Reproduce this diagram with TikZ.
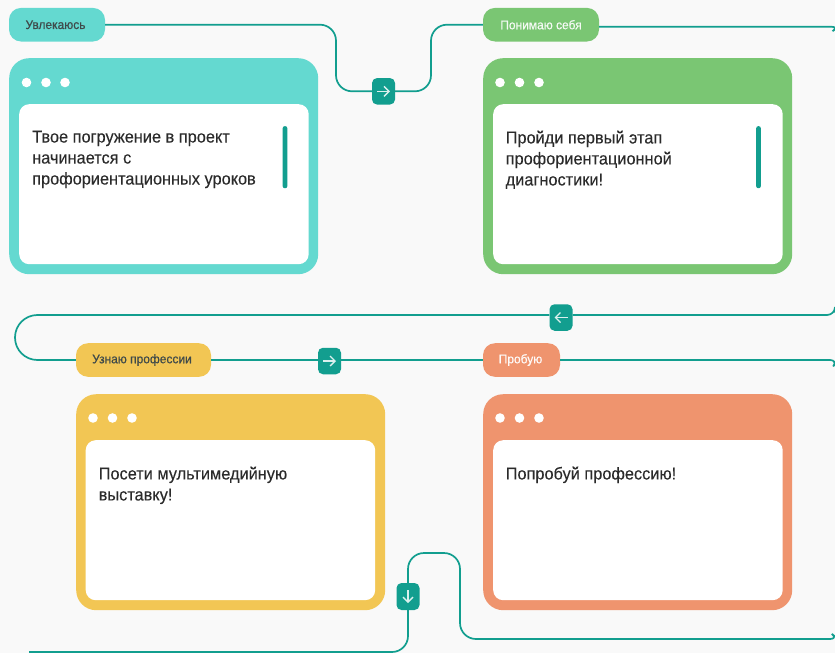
\documentclass[tikz,border=0pt]{standalone}
\usepackage{fontspec}
\setmainfont[FakeStretch=0.95]{Liberation Sans}
\usetikzlibrary{arrows.meta}
\definecolor{pagebg}{HTML}{F9F9F9}
\definecolor{flow}{HTML}{129E8F}
\definecolor{cteal}{HTML}{64D9D0}
\definecolor{cgreen}{HTML}{7AC673}
\definecolor{cyellow}{HTML}{F2C654}
\definecolor{corange}{HTML}{EF946E}
\definecolor{ink}{HTML}{2B2B2B}
\definecolor{pillink}{HTML}{3F4A4A}
\tikzset{
  x=1pt,y=-1pt,
  card/.style={rectangle,rounded corners=20pt,inner sep=0pt,minimum width=309pt,minimum height=216pt,anchor=north west},
  pane/.style={rectangle,rounded corners=10pt,inner sep=0pt,fill=white,minimum width=289.5pt,minimum height=160pt,anchor=north west},
  dot/.style={circle,fill=white,inner sep=0pt,minimum size=9.6pt},
  bar/.style={rectangle,rounded corners=2pt,fill=flow,inner sep=0pt,minimum width=4.6pt,minimum height=62pt,anchor=north west},
  pill/.style={rectangle,rounded corners=12pt,inner sep=0pt,minimum height=33.6pt,font=\fontsize{12.6}{14}\selectfont\addfontfeature{FakeBold=0.45}},
  btn/.style={rectangle,rounded corners=5pt,fill=flow,inner sep=0pt,minimum width=23pt,minimum height=26.5pt},
  body/.style={anchor=north west,inner sep=0pt,align=left,text=ink,font=\fontsize{17.2}{21}\selectfont\addfontfeature{FakeBold=0.15}},
  flowline/.style={draw=flow,line width=1.7pt,rounded corners=16pt},
  glyph/.style={draw=white!85!flow,line width=1.4pt,-{Straight Barb[length=5pt,width=10pt,line width=1.4pt]}}
}
\begin{document}
\begin{tikzpicture}
\useasboundingbox (0,0) rectangle (835,653);
\fill[pagebg] (0,0) rectangle (835,653);

% free ends and bends
\coordinate (e1) at (835,29.5);
\coordinate (e2) at (835,312.5);
\coordinate (e3) at (835,364);
\coordinate (e4) at (835,636.5);
\coordinate (e5) at (29,652);
\coordinate (k1) at (336,58);
\coordinate (k2) at (431,58);
\coordinate (k4) at (460,553);

% pills
\node[pill,fill=cteal,text=pillink,minimum width=96pt] (p1) at (57,24.7) {\kern-3pt Увлекаюсь};
\node[pill,fill=cgreen,text=white!92!cgreen,minimum width=116pt] (p2) at (541,24.7) {Понимаю себя};
\node[pill,fill=cyellow,text=pillink,minimum width=135pt] (p3) at (143.5,360) {\kern-3pt Узнаю профессии};
\node[pill,fill=corange,text=white!95!corange,minimum width=77pt] (p4) at (521.5,360) {\kern-2pt Пробую};

% buttons
\node[btn] (b1) at (383.5,91.3) {};
\node[btn] (b2) at (561,317.5) {};
\node[btn] (b3) at (329.5,361) {};
\node[btn,minimum height=27pt] (b4) at (408,596.5) {};
\draw[glyph] ([xshift=-6.5pt]b1.center) -- ([xshift=6.5pt]b1.center);
\draw[glyph] ([xshift=6.5pt]b2.center) -- ([xshift=-6.5pt]b2.center);
\draw[glyph] ([xshift=-6.5pt]b3.center) -- ([xshift=6.5pt]b3.center);
\draw[glyph] ([yshift=6.5pt]b4.center) -- ([yshift=-6.5pt]b4.center);

% connectors
\draw[flowline] (p1.east) -| (k1) |- (b1.west);
\draw[flowline] (b1.east) -| (k2) |- (p2.west);
\draw[flowline,rounded corners=8pt] ([yshift=-2pt]p2.east) -- ++(240,0) -- (e1);
\draw[flowline,rounded corners=8pt] (e2) -- (835,315) -- (b2.east |- 835,315);
\draw[flowline,sharp corners] (b2.west |- 835,315) -- (37.5,315) .. controls (25,315) and (15,325) .. (15,337.5) .. controls (15,350) and (25,360) .. (37.5,360) -- (p3.west);
\draw[flowline] (p3.east) -- (b3.west |- p3.east);
\draw[flowline] (b3.east |- p4.west) -- (p4.west);
\draw[flowline,rounded corners=8pt] (p4.east) -- (838,360) -- (e3);
\draw[flowline,rounded corners=8pt] (e4) -- (838,639) -- (700,639);
\draw[flowline] (700,639) -- (460,639) -- (k4) -- (b4.north |- k4) -- (b4.north);
\draw[flowline] (b4.south) |- (e5);

% cards
\node[card,fill=cteal] (c1) at (9,58) {};
\node[pane] (w1) at (19,104) {};
\node[dot] (d11) at (26.5,82.5) {};
\node[dot] (d12) at (46,82.5) {};
\node[dot] (d13) at (65,82.5) {};
\node[bar] (s1) at (282.5,126) {};
\node[body] (t1) at (32,130.5) {Твое погружение в проект\\начинается с\\профориентационных уроков};

\node[card,fill=cgreen] (c2) at (483,58) {};
\node[pane] (w2) at (493,104) {};
\node[dot] (d21) at (500,82.5) {};
\node[dot] (d22) at (519.5,82.5) {};
\node[dot] (d23) at (539,82.5) {};
\node[bar] (s2) at (756,126) {};
\node[body] (t2) at (505.5,130.5) {Пройди первый этап\\профориентационной\\диагностики!};

\node[card,fill=cyellow] (c3) at (76,394) {};
\node[pane] (w3) at (85.5,440) {};
\node[dot] (d31) at (93,418) {};
\node[dot] (d32) at (112.5,418) {};
\node[dot] (d33) at (132,418) {};
\node[body] (t3) at (98.5,466.5) {Посети мультимедийную\\выставку!};

\node[card,fill=corange] (c4) at (483,394) {};
\node[pane] (w4) at (493,440) {};
\node[dot] (d41) at (500,418) {};
\node[dot] (d42) at (519.5,418) {};
\node[dot] (d43) at (539,418) {};
\node[body] (t4) at (505.5,466.5) {Попробуй профессию!};
\end{tikzpicture}
\end{document}
